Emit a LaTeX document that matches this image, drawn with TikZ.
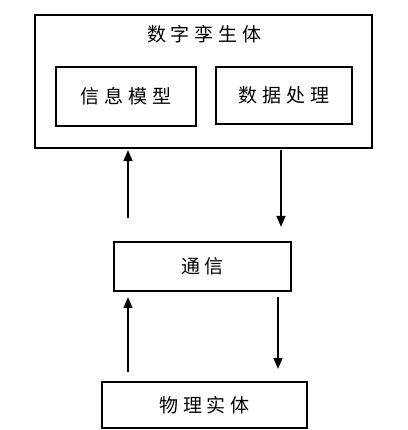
\documentclass[tikz,border=0pt]{standalone}
\usepackage{fontspec}
\newfontfamily\cjk[LetterSpace=25]{Noto Sans CJK SC}
\usetikzlibrary{arrows.meta}

\begin{document}
\begin{tikzpicture}[x=1pt, y=-1pt,
  font=\cjk\fontsize{19}{22}\selectfont,
  box/.style={draw, line width=2.2pt, inner sep=0pt, minimum width=#1},
  box/.default=140pt,
  arr/.style={-{Triangle[length=11pt,width=9pt]}, line width=1.5pt}]
\useasboundingbox (0,0) rectangle (407,430);
\node[box=337pt, minimum height=133pt] (dt) at (203.5,81.5) {};
\node (title) at (204,34) {数字孪生体};
\node[box=140pt, minimum height=59pt] (info) at (126,96.5) {信息模型};
\node[box=136pt, minimum height=57pt] (data) at (284,95.5) {数据处理};
\node[box=177pt, minimum height=49pt] (comm) at (202.5,266.5) {通信};
\node[box=205pt, minimum height=46pt] (phys) at (204.5,405) {物理实体};
\coordinate (up) at (128,0);
\coordinate (dn) at (281,0);
\coordinate (dn2) at (278,0);
% upper link
\draw[arr, shorten <=23pt, shorten >=1pt] (comm.north -| up) -- (dt.south -| up);
\draw[arr, shorten <=1pt, shorten >=14pt] (dt.south -| dn) -- (comm.north -| dn);
% lower link
\draw[arr, shorten <=9pt, shorten >=5pt] (phys.north -| up) -- (comm.south -| up);
\draw[arr, shorten <=5pt, shorten >=12pt] (comm.south -| dn2) -- (phys.north -| dn2);
\end{tikzpicture}
\end{document}
